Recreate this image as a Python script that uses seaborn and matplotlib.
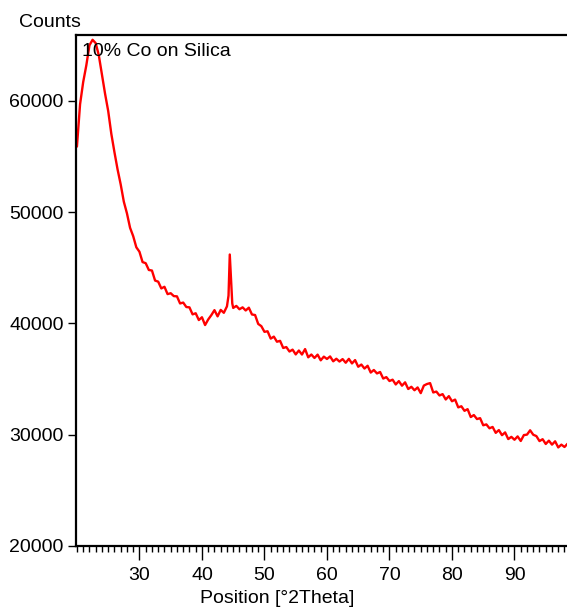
import matplotlib
matplotlib.use("Agg")
import matplotlib.pyplot as plt
from matplotlib.ticker import MultipleLocator, FixedLocator
import seaborn as sns
import pandas as pd

# ---- data ----
two_theta = [
    20.0, 20.5, 21.0, 21.5, 22.0, 22.5, 23.0, 23.5, 24.0, 24.5,
    25.0, 25.5, 26.0, 26.5, 27.0, 27.5, 28.0, 28.5, 29.0, 29.5,
    30.0, 30.5, 31.0, 31.5, 32.0, 32.5, 33.0, 33.5, 34.0, 34.5,
    35.0, 35.5, 36.0, 36.5, 37.0, 37.5, 38.0, 38.5, 39.0, 39.5,
    40.0, 40.5, 41.0, 41.5, 42.0, 42.5, 43.0, 43.5, 44.0, 44.25,
    44.45, 44.65, 44.85, 45.0, 45.5, 46.0, 46.5, 47.0, 47.5, 48.0,
    48.5, 49.0, 49.5, 50.0, 50.5, 51.0, 51.5, 52.0, 52.5, 53.0,
    53.5, 54.0, 54.5, 55.0, 55.5, 56.0, 56.5, 57.0, 57.5, 58.0,
    58.5, 59.0, 59.5, 60.0, 60.5, 61.0, 61.5, 62.0, 62.5, 63.0,
    63.5, 64.0, 64.5, 65.0, 65.5, 66.0, 66.5, 67.0, 67.5, 68.0,
    68.5, 69.0, 69.5, 70.0, 70.5, 71.0, 71.5, 72.0, 72.5, 73.0,
    73.5, 74.0, 74.5, 75.0, 75.5, 76.0, 76.5, 77.0, 77.5, 78.0,
    78.5, 79.0, 79.5, 80.0, 80.5, 81.0, 81.5, 82.0, 82.5, 83.0,
    83.5, 84.0, 84.5, 85.0, 85.5, 86.0, 86.5, 87.0, 87.5, 88.0,
    88.5, 89.0, 89.5, 90.0, 90.5, 91.0, 91.5, 92.0, 92.5, 93.0,
    93.5, 94.0, 94.5, 95.0, 95.5, 96.0, 96.5, 97.0, 97.5, 98.0,
    98.5,
]
counts = [
    55900, 59700, 61700, 63200, 65000, 65500, 65200, 64100, 62400, 60650,
    59100, 57050, 55400, 53850, 52500, 50950, 49900, 48600, 47850, 46850,
    46450, 45520, 45420, 44810, 44760, 43860, 43760, 43150, 43300, 42640,
    42720, 42460, 42440, 41800, 41880, 41480, 41450, 40820, 40920, 40310,
    40560, 39860, 40360, 40750, 41200, 40640, 41220, 40960, 41540, 42500,
    46200, 44000, 41800, 41400, 41580, 41280, 41450, 41170, 41420, 40810,
    40760, 39960, 39760, 39250, 39300, 38640, 38820, 38360, 38440, 37800,
    37880, 37480, 37650, 37220, 37570, 37210, 37700, 36960, 37210, 36900,
    37200, 36690, 37020, 36810, 37040, 36600, 36830, 36580, 36800, 36470,
    36820, 36410, 36710, 36110, 36310, 35950, 36200, 35590, 35820, 35510,
    35640, 35050, 35180, 34830, 34950, 34520, 34820, 34410, 34710, 34110,
    34310, 34000, 34250, 33740, 34420, 34560, 34640, 33800, 33880, 33530,
    33650, 33170, 33470, 33010, 33160, 32460, 32560, 32150, 32300, 31590,
    31770, 31410, 31490, 30850, 30930, 30580, 30700, 30170, 30420, 29960,
    30210, 29610, 29810, 29550, 29850, 29440, 29970, 30010, 30400, 30000,
    29880, 29430, 29600, 29170, 29470, 29110, 29410, 28860, 29110, 28900,
    29200,
]
y_ticks = [20000, 30000, 40000, 50000, 60000]
x_ticks = [30, 40, 50, 60, 70, 80, 90]
title_text = "10% Co on Silica"
y_title = "Counts"
x_title = "Position [°2Theta]"

df = pd.DataFrame({"two_theta": two_theta, "counts": counts})

sns.set_style("ticks")
plt.rcParams["font.family"] = ["Liberation Sans", "DejaVu Sans"]
plt.rcParams["text.color"] = "black"
plt.rcParams["axes.labelcolor"] = "black"
plt.rcParams["xtick.color"] = "black"
plt.rcParams["ytick.color"] = "black"

W, H = 567, 615
fig = plt.figure(figsize=(W / 100, H / 100), dpi=100)
left, right, bottom, top = 76, 567, 546, 35
ax = fig.add_axes([left / W, 1 - bottom / H, (right - left) / W, (bottom - top) / H])

sns.lineplot(data=df, x="two_theta", y="counts", color="#ff0000",
             linewidth=1.7, ax=ax, legend=False)

ax.set_xlim(19.85, 98.4)
ax.set_ylim(20000, 65930)

ax.xaxis.set_major_locator(FixedLocator(x_ticks))
ax.xaxis.set_minor_locator(MultipleLocator(1))
ax.yaxis.set_major_locator(FixedLocator(y_ticks))
ax.set_xticklabels([str(t) for t in x_ticks])
ax.set_yticklabels([str(t) for t in y_ticks])

for s in ["left", "bottom", "top"]:
    ax.spines[s].set_visible(True)
    ax.spines[s].set_linewidth(1.6)
    ax.spines[s].set_color("black")
ax.spines["right"].set_visible(False)

ax.tick_params(axis="x", which="major", direction="out", length=10, width=1,
               labelsize=14, pad=5, color="black", labelcolor="black")
ax.tick_params(axis="x", which="minor", direction="out", length=4.3, width=1,
               color="black")
ax.tick_params(axis="y", which="major", direction="out", length=6, width=1,
               labelsize=14, pad=3, color="black", labelcolor="black")
ax.tick_params(axis="y", which="minor", length=0)
ax.grid(False)

ax.set_xlabel(x_title, fontsize=14, color="black")
ax.set_ylabel("")
ax.xaxis.set_label_coords((277 - left) / (right - left), -(590 - bottom) / (bottom - top))
ax.xaxis.label.set_va("top")

ax.text((82 - left) / (right - left), (bottom - 56) / (bottom - top), title_text,
        transform=ax.transAxes, fontsize=14, va="baseline", ha="left", color="black")
fig.text(19 / W, 1 - 27 / H, y_title, fontsize=14, va="baseline", ha="left",
         color="black")

fig.savefig("out.png", dpi=100)
